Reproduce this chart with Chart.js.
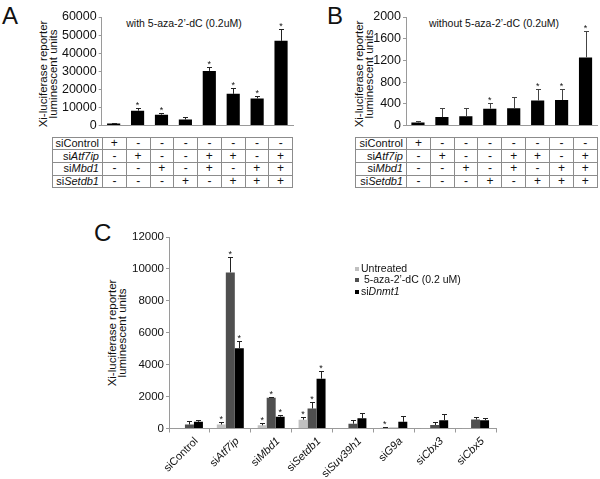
<!DOCTYPE html>
<html>
<head>
<meta charset="utf-8">
<script src="https://cdn.jsdelivr.net/npm/chart.js@4.4.1/dist/chart.umd.min.js"></script>
<style>
  body { margin: 0; background: #fff; font-family: "Liberation Sans", Arial, sans-serif; color: #111; }
  #page { position: relative; width: 600px; height: 479px; overflow: hidden; background: #fff; }
  canvas { position: absolute; }
  .letter { position: absolute; font-size: 24px; line-height: 24px; }
  .ptitle { position: absolute; font-size: 10.5px; line-height: 12px; white-space: nowrap; transform: translate(-50%, -50%); }
  .ytitle { position: absolute; font-size: 11.5px; line-height: 10px; white-space: nowrap; text-align: center;
            transform: translate(-50%, -50%) rotate(-90deg); }
  table.combo { position: absolute; border-collapse: collapse; font-size: 11px; table-layout: fixed; }
  table.combo td { border: 1px solid #8c8c8c; padding: 0; height: 11.7px; line-height: 11px; text-align: center; font-size: 12px; }
  table.combo td.name { text-align: right; padding-right: 3px; font-size: 11px; }
  .legend { position: absolute; left: 355px; top: 263px; font-size: 10.5px; line-height: 11.3px; }
  .legend div { position: relative; padding-left: 6px; white-space: nowrap; }
  .legend span.sw { position: absolute; left: 0; top: 4px; width: 4px; height: 4px; }
</style>
</head>
<body>
<div id="page">
  <div class="letter" style="left:2px;top:4px;">A</div>
  <div class="letter" style="left:327px;top:4px;">B</div>
  <div class="letter" style="left:94px;top:221px;">C</div>

  <div class="ptitle" style="left:184px;top:23px;">with 5-aza-2’-dC (0.2uM)</div>
  <div class="ptitle" style="left:494px;top:23px;">without 5-aza-2’-dC (0.2uM)</div>

  <div class="ytitle" style="left:48px;top:74px;">Xi-luciferase reporter<br>luminescent units</div>
  <div class="ytitle" style="left:364px;top:74px;">Xi-luciferase reporter<br>luminescent units</div>
  <div class="ytitle" style="left:117px;top:333px;">Xi-luciferase reporter<br>luminescent units</div>

  <canvas id="chart-a" width="300" height="135" style="left:0;top:0;"></canvas>
  <canvas id="chart-b" width="300" height="135" style="left:300px;top:0;"></canvas>
  <canvas id="chart-c" width="520" height="257" style="left:80px;top:222px;"></canvas>

  <table class="combo" id="table-a" style="left:52px;top:136.5px;width:241px;"></table>
  <table class="combo" id="table-b" style="left:355px;top:136.5px;width:242.7px;"></table>

  <div class="legend">
    <div><span class="sw" style="background:#c0c0c0"></span>Untreated</div>
    <div><span class="sw" style="background:#4f4f4f"></span>&nbsp;5-aza-2’-dC (0.2 uM)</div>
    <div><span class="sw" style="background:#000"></span>si<i>Dnmt1</i></div>
  </div>
</div>

<script>
  // --- panel A / B : siRNA combinations ---
  const rowGenes = ["Control", "Atf7ip", "Mbd1", "Setdb1"];
  const rowItalic = [false, true, true, true];
  const combos = [
    ["+", "-", "-", "-", "-", "-", "-", "-"],
    ["-", "+", "-", "-", "+", "+", "-", "+"],
    ["-", "-", "+", "-", "+", "-", "+", "+"],
    ["-", "-", "-", "+", "-", "+", "+", "+"],
  ];
  const comboLabels = ["1", "2", "3", "4", "5", "6", "7", "8"];

  // panel A (with 5-aza-2'-dC)
  const aValues = [1100, 8200, 6000, 3300, 30200, 17500, 15000, 46800];
  const aErrors = [300, 1500, 900, 1500, 1900, 3100, 1300, 6600];
  const aStars = [0, 1, 1, 0, 1, 1, 1, 1];
  const aTicks = { max: 60000, step: 10000 };

  // panel B (without 5-aza-2'-dC)
  const bValues = [55, 155, 170, 310, 320, 460, 470, 1255];
  const bErrors = [30, 165, 150, 110, 210, 210, 200, 495];
  const bStars = [0, 0, 0, 1, 0, 1, 1, 1];
  const bTicks = { max: 2000, step: 400 };

  // panel C
  const cLabels = ["siControl", "siAtf7ip", "siMbd1", "siSetdb1", "siSuv39h1", "siG9a", "siCbx3", "siCbx5"];
  const cItalic = [false, true, true, true, true, true, true, true];
  const cUntreated = [0, 250, 200, 550, 30, 50, 20, 10];
  const cUntreatedErr = [0, 150, 150, 180, 0, 30, 0, 0];
  const cUntreatedStars = [0, 1, 1, 1, 0, 1, 0, 0];
  const cAza = [250, 9780, 1920, 1250, 300, 50, 220, 560];
  const cAzaErr = [200, 940, 80, 430, 230, 0, 170, 170];
  const cAzaStars = [0, 1, 1, 1, 0, 0, 0, 0];
  const cDnmt1 = [420, 5030, 740, 3120, 640, 420, 520, 520];
  const cDnmt1Err = [100, 480, 120, 480, 330, 380, 360, 150];
  const cDnmt1Stars = [0, 1, 1, 1, 0, 0, 0, 0];
  const cTicks = { max: 12000, step: 2000 };

  const FONT = "Liberation Sans";
  Chart.defaults.font.family = FONT;
  Chart.defaults.color = "#111";

  // error bars (top only, with cap) + significance stars
  const errorBars = {
    id: "errorBars",
    afterDatasetsDraw(chart, args, opts) {
      const ctx = chart.ctx;
      const y = chart.scales.y;
      chart.data.datasets.forEach((ds, di) => {
        const meta = chart.getDatasetMeta(di);
        meta.data.forEach((bar, i) => {
          const err = ds.errors ? ds.errors[i] : 0;
          const top = y.getPixelForValue(ds.data[i] + err);
          ctx.save();
          if (err > 0) {
            const x = Math.round(bar.x) + 0.5;
            const ty = Math.round(top) + 0.5;
            ctx.strokeStyle = opts.color;
            ctx.lineWidth = 1;
            ctx.beginPath();
            ctx.moveTo(x, bar.y);
            ctx.lineTo(x, ty);
            ctx.moveTo(x - opts.cap, ty);
            ctx.lineTo(x + opts.cap, ty);
            ctx.stroke();
          }
          if (ds.stars && ds.stars[i]) {
            ctx.fillStyle = "#111";
            ctx.font = "9px " + FONT;
            ctx.textAlign = "center";
            ctx.textBaseline = "alphabetic";
            ctx.fillText("*", bar.x, top);
          }
          ctx.restore();
        });
      });
    },
  };

  // rotated category labels with italic gene names (panel C)
  const slantLabels = {
    id: "slantLabels",
    afterDraw(chart) {
      const ctx = chart.ctx;
      const x = chart.scales.x;
      const bottom = chart.chartArea.bottom;
      cLabels.forEach((lab, i) => {
        const px = x.getPixelForValue(i);
        const rest = lab.slice(2);
        ctx.save();
        ctx.translate(px + 7, bottom + 11);
        ctx.rotate(-Math.PI / 4);
        ctx.fillStyle = "#111";
        ctx.textBaseline = "middle";
        ctx.textAlign = "right";
        ctx.font = (cItalic[i] ? "italic " : "") + "11px " + FONT;
        const w = ctx.measureText(rest).width;
        ctx.fillText(rest, 0, 0);
        ctx.font = "11px " + FONT;
        ctx.fillText("si", -w, 0);
        ctx.restore();
      });
    },
  };

  function yScale(t, width, fontSize) {
    return {
      min: 0,
      max: t.max,
      ticks: { stepSize: t.step, color: "#111", font: { size: fontSize }, padding: 2, callback: (v) => String(v) },
      grid: { drawOnChartArea: false, tickLength: 3, color: "#9a9a9a" },
      border: { color: "#9a9a9a" },
      afterFit: (s) => { s.width = width; },
    };
  }

  function comboChart(id, values, errors, stars, ticks, yWidth, padRight, errColor) {
    return new Chart(document.getElementById(id), {
      type: "bar",
      data: {
        labels: comboLabels,
        datasets: [{
          data: values,
          errors: errors,
          stars: stars,
          backgroundColor: "#000",
          categoryPercentage: 1,
          barPercentage: 0.55,
        }],
      },
      options: {
        responsive: false,
        animation: false,
        layout: { padding: { left: 0, right: padRight, top: 17, bottom: 3.5 } },
        plugins: { legend: { display: false }, tooltip: { enabled: false }, errorBars: { color: errColor, cap: 2.5 } },
        scales: {
          x: {
            ticks: { display: false },
            grid: { display: false },
            border: { color: "#9a9a9a" },
            afterFit: (s) => { s.height = 0; },
          },
          y: yScale(ticks, yWidth, 12.5),
        },
      },
      plugins: [errorBars],
    });
  }

  function fillTable(id, firstCol) {
    const t = document.getElementById(id);
    let html = `<colgroup><col style="width:${firstCol}px">` + comboLabels.map(() => "<col>").join("") + "</colgroup>";
    rowGenes.forEach((g, r) => {
      const name = rowItalic[r] ? `si<i>${g}</i>` : `si${g}`;
      html += `<tr><td class="name">${name}</td>` + combos[r].map((c) => `<td>${c}</td>`).join("") + "</tr>";
    });
    t.innerHTML = html;
  }

  comboChart("chart-a", aValues, aErrors, aStars, aTicks, 101.7, 7, "#222");
  comboChart("chart-b", bValues, bErrors, bStars, bTicks, 106, 2.5, "#444");
  fillTable("table-a", 50);
  fillTable("table-b", 51);

  new Chart(document.getElementById("chart-c"), {
    type: "bar",
    data: {
      labels: cLabels,
      datasets: [
        { label: "Untreated", data: cUntreated, errors: cUntreatedErr, stars: cUntreatedStars, backgroundColor: "#c0c0c0" },
        { label: "5-aza-2’-dC (0.2 uM)", data: cAza, errors: cAzaErr, stars: cAzaStars, backgroundColor: "#4f4f4f" },
        { label: "siDnmt1", data: cDnmt1, errors: cDnmt1Err, stars: cDnmt1Stars, backgroundColor: "#000" },
      ],
    },
    options: {
      responsive: false,
      animation: false,
      datasets: { bar: { categoryPercentage: 0.66, barPercentage: 1 } },
      layout: { padding: { left: 0, right: 104, top: 15, bottom: 44.5 } },
      plugins: { legend: { display: false }, tooltip: { enabled: false }, errorBars: { color: "#222", cap: 2.5 } },
      scales: {
        x: {
          ticks: { display: false },
          grid: { drawOnChartArea: false, tickLength: 4, color: "#9a9a9a", offset: true },
          border: { color: "#9a9a9a" },
          afterFit: (s) => { s.height = 6; },
        },
        y: yScale(cTicks, 89, 11.5),
      },
    },
    plugins: [errorBars, slantLabels],
  });
</script>
</body>
</html>
